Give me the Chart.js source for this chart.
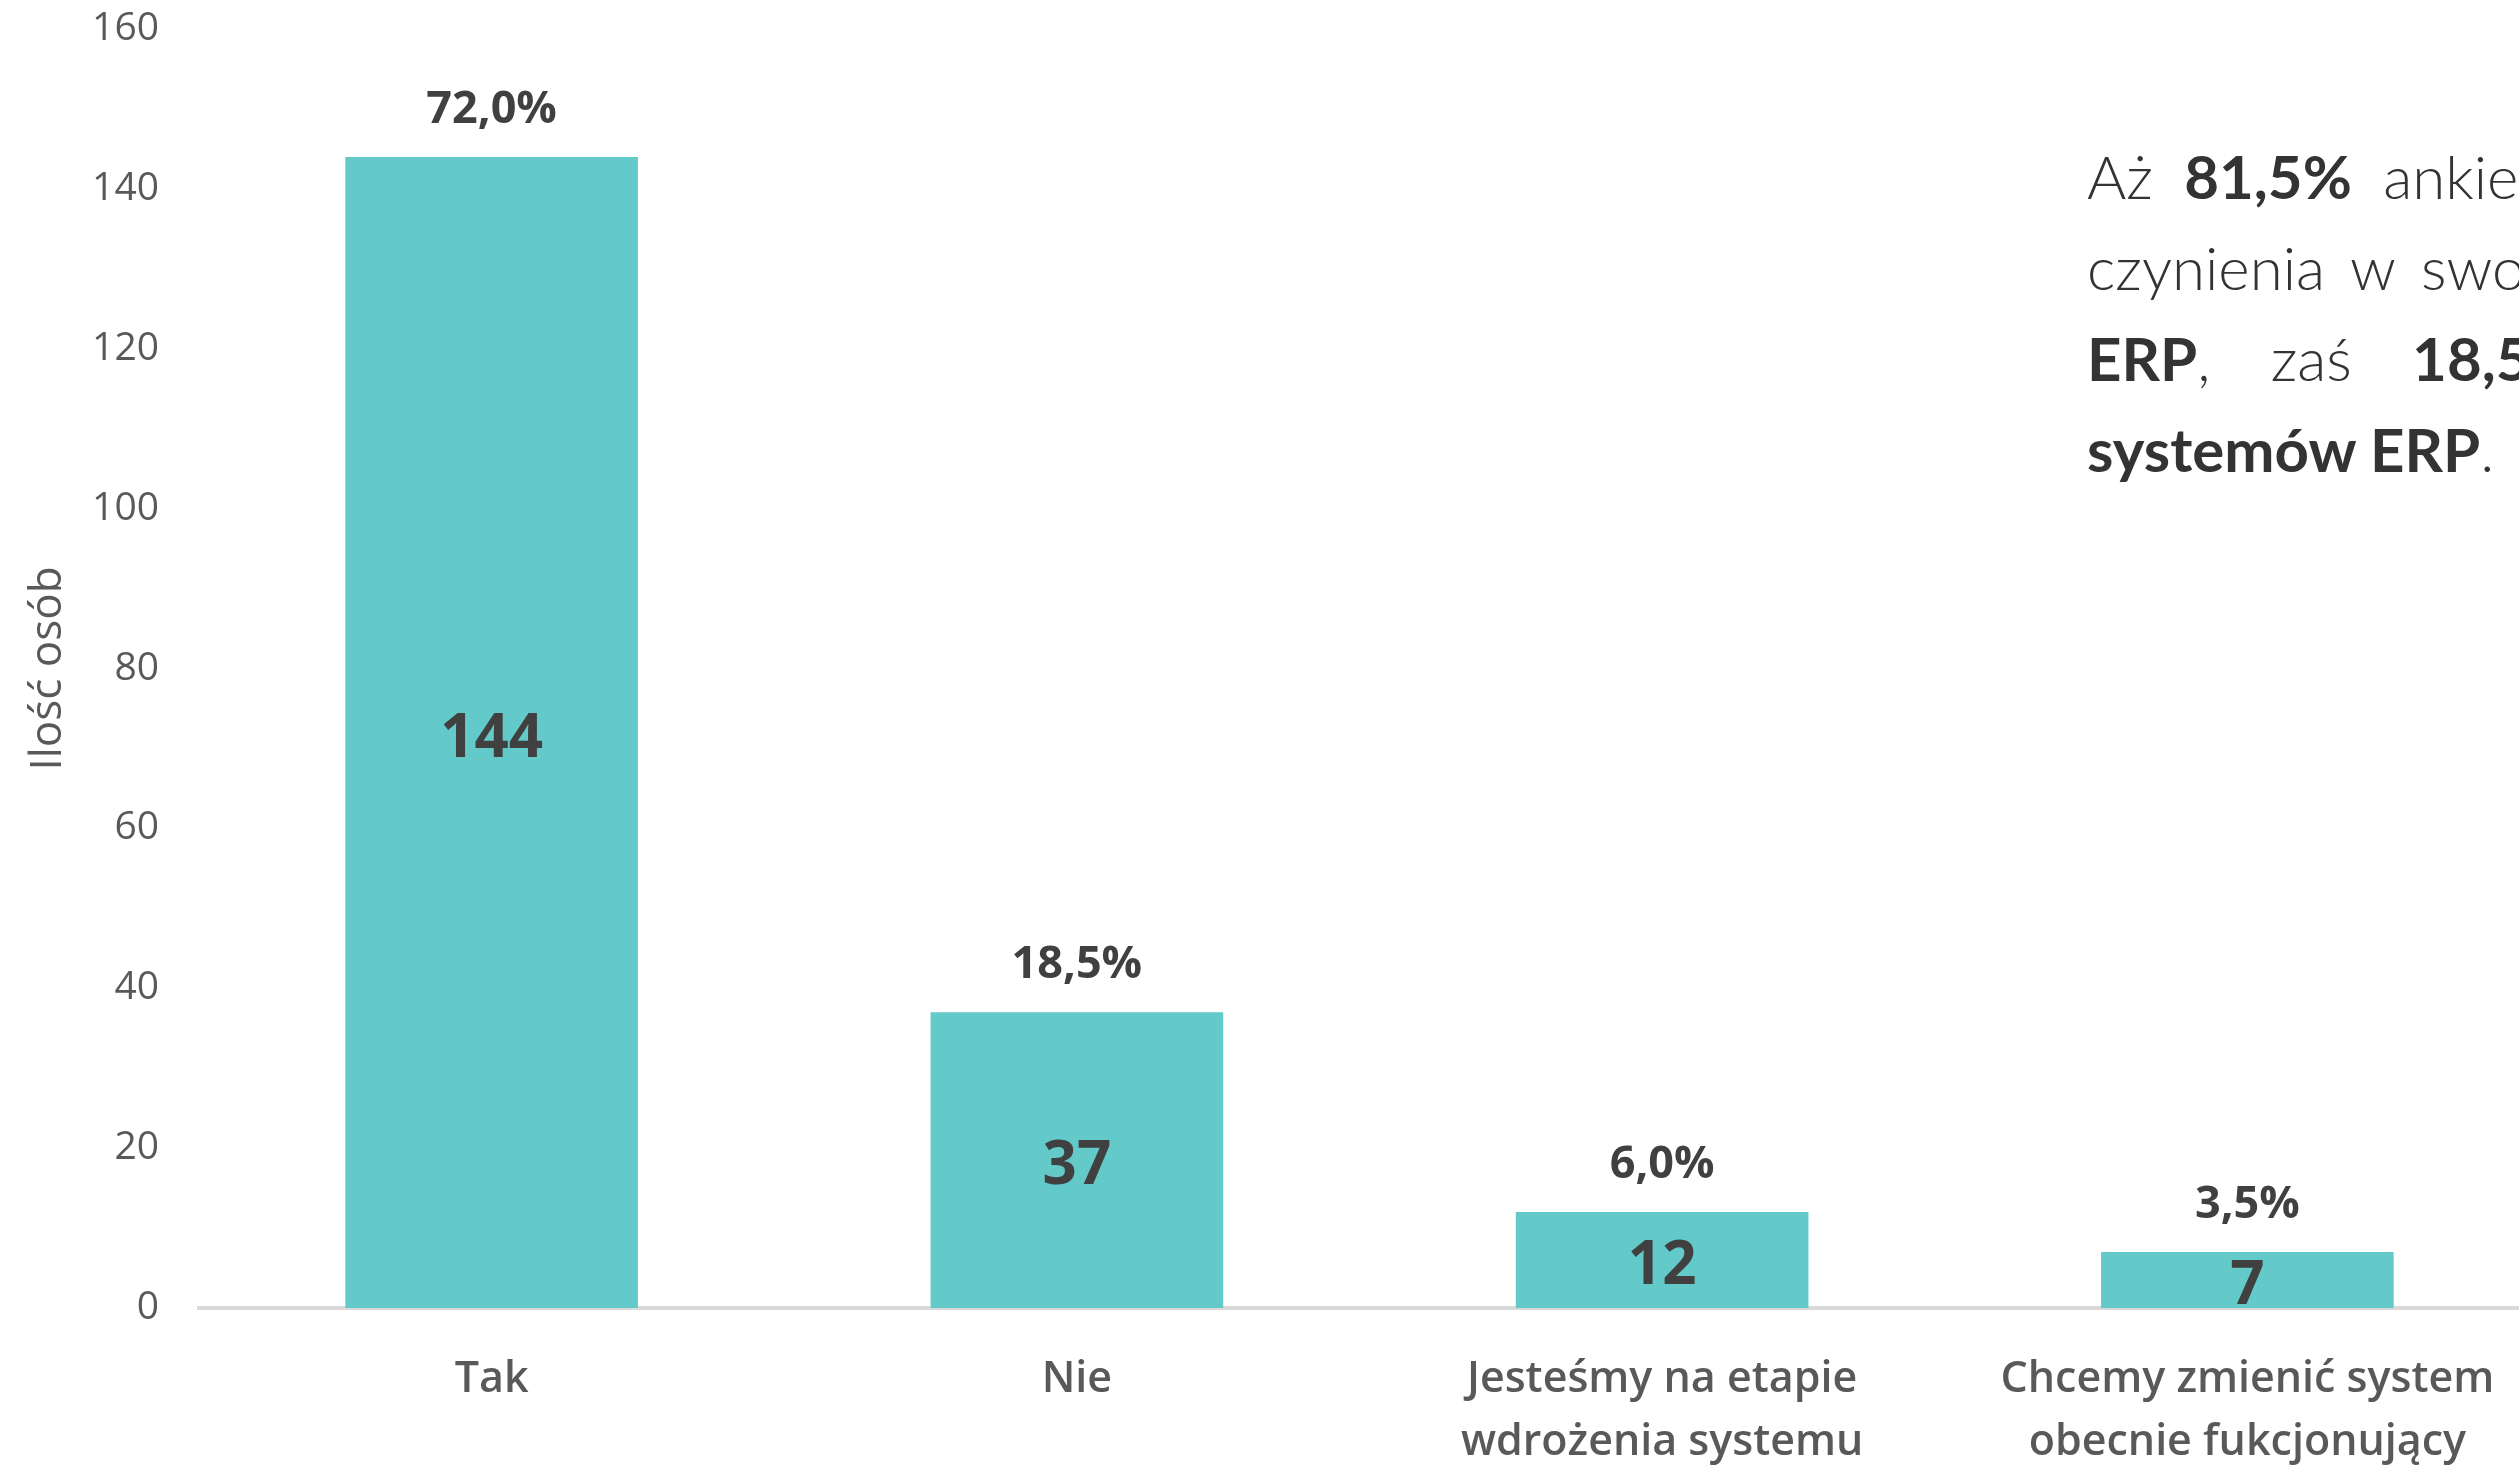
<!DOCTYPE html>
<html lang="pl">
<head>
<meta charset="utf-8">
<title>Ilość osób</title>
<script src="https://cdn.jsdelivr.net/npm/chart.js@4"></script>
<style>
  html, body { margin: 0; padding: 0; background: #fff; overflow: hidden; }
  #wrap { position: absolute; left: 0; top: 0; width: 2545px; height: 1500px; }
  #note {
    position: absolute; left: 2087px; top: 131px;
    font-family: 'Lato', 'Open Sans', sans-serif; font-weight: 300;
    font-size: 60px; line-height: 91px; color: #333;
    white-space: nowrap;
  }
  #note b { font-weight: 700; }
  #note div { white-space: nowrap; }
</style>
</head>
<body>
<div id="wrap"><canvas id="chart"></canvas></div>
<div id="note">
  <div style="word-spacing: 15px">Aż <b>81,5%</b> ankietowanych ma do</div>
  <div style="word-spacing: 10px">czynienia w swojej firmie z systemem</div>
  <div style="word-spacing: 44px"><b>ERP</b>, zaś <b>18,5%</b> nie korzysta z</div>
  <div><b>systemów ERP</b>.</div>
</div>
<script>
const categories = [
    ['Tak'],
    ['Nie'],
    ['Jesteśmy na etapie', 'wdrożenia systemu'],
    ['Chcemy zmienić system', 'obecnie fukcjonujący']
];
const counts = [144, 37, 12, 7];
const percentLabels = ['72,0%', '18,5%', '6,0%', '3,5%'];
const yTicks = [0, 20, 40, 60, 80, 100, 120, 140, 160];

const FONT = "'Open Sans', sans-serif";

// draws the % above each bar and the count inside it
const barLabels = {
    id: 'barLabels',
    afterDatasetsDraw(chart) {
        const ctx = chart.ctx;
        const meta = chart.getDatasetMeta(0);
        ctx.save();
        ctx.textAlign = 'center';
        ctx.fillStyle = '#404040';
        meta.data.forEach((bar, i) => {
            const {x, y, base} = bar.getProps(['x', 'y', 'base'], true);
            ctx.font = `700 45px ${FONT}`;
            ctx.textBaseline = 'alphabetic';
            ctx.fillText(percentLabels[i], x, y - 34);
            ctx.font = `700 60px ${FONT}`;
            ctx.textBaseline = 'middle';
            ctx.fillText(String(counts[i]), x, (y + base) / 2 + 7);
        });
        ctx.restore();
    }
};

const ctx = document.getElementById('chart').getContext('2d');
new Chart(ctx, {
    type: 'bar',
    data: {
        labels: categories,
        datasets: [{
            data: counts,
            backgroundColor: '#63C9C9',
            borderWidth: 0,
            barPercentage: 0.5,
            categoryPercentage: 1
        }]
    },
    options: {
        responsive: true,
        maintainAspectRatio: false,
        animation: false,
        layout: { padding: { top: 29, right: 5, bottom: 0, left: 0 } },
        plugins: {
            legend: { display: false },
            tooltip: { enabled: false }
        },
        scales: {
            x: {
                grid: { display: false, drawTicks: false },
                border: { display: true, color: '#d9d9d9', width: 4 },
                ticks: {
                    color: '#595959',
                    padding: 40,
                    maxRotation: 0,
                    autoSkip: false,
                    font: { family: FONT, size: 43, weight: '600', lineHeight: 1.47 }
                },
                afterFit(scale) {
                    scale.height = 192;
                    scale.paddingLeft = 0;
                    scale.paddingRight = 0;
                }
            },
            y: {
                min: 0,
                max: 160,
                grid: { display: false, drawTicks: false },
                border: { display: false },
                afterBuildTicks(scale) { scale.ticks = yTicks.map(v => ({ value: v })); },
                ticks: {
                    color: '#595959',
                    padding: 40,
                    font: { family: FONT, size: 39 }
                },
                title: {
                    display: true,
                    text: 'Ilość osób',
                    color: '#595959',
                    padding: { top: 22, bottom: 0 },
                    font: { family: FONT, size: 44 }
                },
                afterFit(scale) {
                    scale.width = 199;
                    scale.paddingTop = 0;
                    scale.paddingBottom = 0;
                }
            }
        }
    },
    plugins: [barLabels]
});
</script>
</body>
</html>
